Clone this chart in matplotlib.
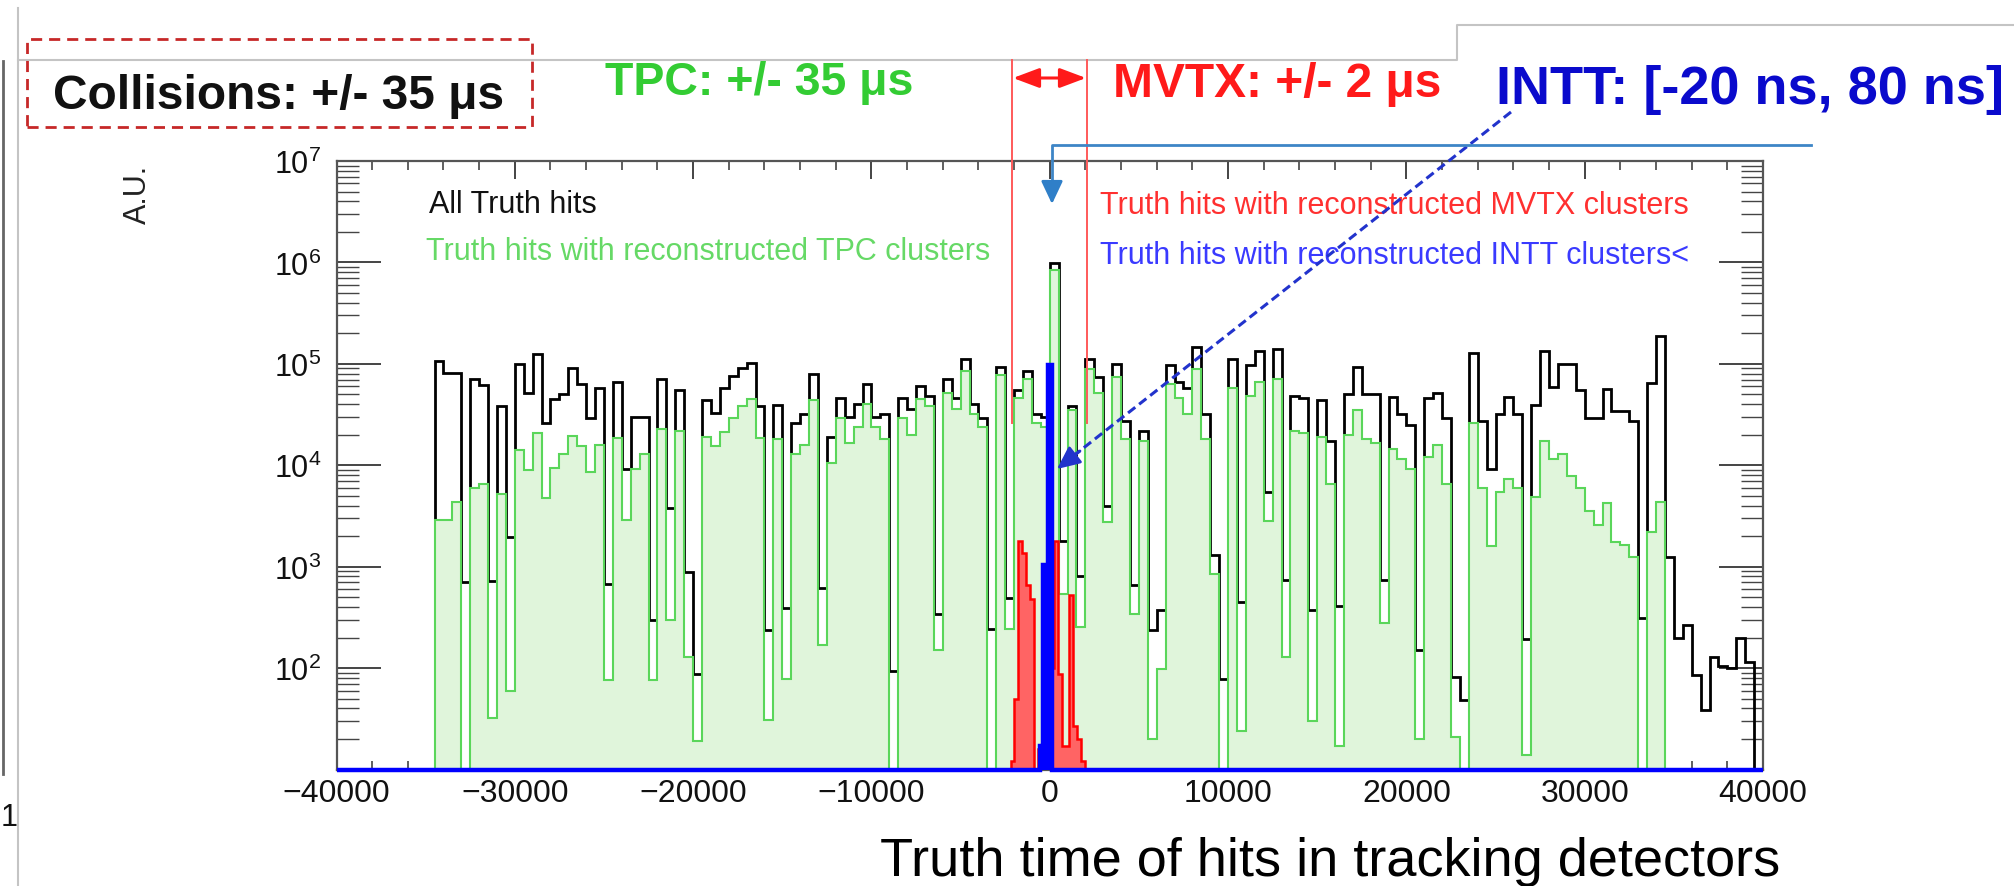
import numpy as np
import matplotlib
matplotlib.use("Agg")
import matplotlib.pyplot as plt
from matplotlib.lines import Line2D
from matplotlib.patches import Rectangle, FancyArrowPatch
from matplotlib.ticker import LogLocator, NullFormatter, MultipleLocator

plt.rcParams['font.family'] = ['Liberation Sans', 'DejaVu Sans']
plt.rcParams['mathtext.fontset'] = 'custom'
plt.rcParams['mathtext.rm'] = 'Liberation Sans'
plt.rcParams['mathtext.it'] = 'Liberation Sans:italic'
plt.rcParams['mathtext.bf'] = 'Liberation Sans:bold'

# ---------------- data ----------------
# 160 bins of 500 ns from -40000 to 40000
bin_edges = np.arange(-40000, 40001, 500)

all_hits = [
    0, 0, 0, 0, 0, 0, 0, 0, 0, 0,
    0, 107000, 81000, 81000, 710, 71000, 62000, 720, 38000, 1950,
    100000, 52000, 126000, 26000, 45000, 50000, 91000, 63000, 29500, 58000,
    680, 66000, 9100, 30000, 30000, 300, 71000, 3800, 55000, 890,
    87, 44000, 33000, 58000, 76000, 91000, 102000, 38000, 240, 39000,
    390, 26000, 32000, 79000, 620, 19000, 46000, 30000, 40000, 63000,
    30000, 32000, 93, 46000, 36000, 60000, 48000, 340, 71000, 46000,
    112000, 40000, 29000, 245, 93000, 490, 55000, 85000, 32000, 30000,
    980000, 1800, 38000, 810, 112000, 74000, 4000, 100000, 27500, 660,
    22000, 235, 370, 98000, 66000, 58000, 148000, 32000, 1300, 78,
    112000, 450, 98000, 135000, 5500, 141000, 740, 48000, 46000, 370,
    44000, 17500, 410, 50000, 93000, 50000, 50000, 740, 47000, 32000,
    25000, 150, 46000, 52000, 29000, 81, 49, 129000, 27500, 9100,
    32000, 47000, 32000, 195, 39000, 135000, 59000, 100000, 100000, 55000,
    29500, 29500, 56000, 34000, 34000, 27500, 310, 65000, 190000, 1250,
    200, 265, 85, 39, 130, 105, 100, 200, 115, 0,
]

tpc_hits = [
    0, 0, 0, 0, 0, 0, 0, 0, 0, 0,
    0, 2900, 2900, 4300, 0, 5900, 6500, 32, 5200, 59,
    14000, 8900, 21000, 4800, 9500, 13000, 19500, 15500, 8500, 16000,
    76, 18500, 2900, 9100, 13000, 76, 23000, 300, 22000, 130,
    19, 19000, 15500, 21500, 29500, 38000, 45000, 18500, 31, 18000,
    78, 13000, 16000, 44000, 170, 10500, 29000, 16500, 24000, 40000,
    24000, 18000, 0, 29000, 20000, 45000, 38000, 150, 52000, 36000,
    85000, 32000, 24000, 0, 78000, 245, 46000, 71000, 26000, 24000,
    850000, 540, 35000, 255, 89000, 52000, 2750, 74000, 18000, 340,
    17500, 20, 98, 63000, 46000, 32000, 89000, 18000, 850, 0,
    58000, 24, 48000, 66000, 2800, 71000, 130, 22000, 21000, 30,
    19000, 6600, 17, 20000, 35000, 18000, 16500, 280, 14500, 11500,
    9100, 20, 12000, 16000, 6600, 21, 0, 26000, 5900, 1600,
    5400, 7400, 5900, 14, 4900, 17500, 11500, 13000, 7900, 6000,
    3500, 2600, 4200, 1750, 1650, 1250, 0, 2200, 4300, 0,
    0, 0, 0, 0, 0, 0, 0, 0, 0, 0,
]

mvtx_edges = [-2200, -1980, -1760, -1540, -1320, -1100, -880, -660, -440, -220,
              0, 220, 440, 660, 880, 1100, 1320, 1540, 1760, 1980, 2200]
mvtx_hits = [12, 50, 1800, 1350, 660, 480, 0, 16, 0, 0,
             100, 1800, 87, 17, 17, 520, 27, 20, 12, 0]

intt_edges = [-40000, -550, -370, -80, 120, 40000]
intt_hits = [0, 17, 1050, 98000, 0]

x_ticks = [-40000, -30000, -20000, -10000, 0, 10000, 20000, 30000, 40000]
x_tick_labels = ['\u221240000', '\u221230000', '\u221220000', '\u221210000', '0',
                 '10000', '20000', '30000', '40000']
y_ticks = [1e1, 1e2, 1e3, 1e4, 1e5, 1e6, 1e7]
y_tick_labels = ['', r'$10^{2}$', r'$10^{3}$', r'$10^{4}$', r'$10^{5}$', r'$10^{6}$', r'$10^{7}$']

legend_labels = ['All Truth hits',
                 'Truth hits with reconstructed TPC clusters',
                 'Truth hits with reconstructed MVTX clusters',
                 'Truth hits with reconstructed INTT clusters<']

# ---------------- figure ----------------
W, H = 2014, 887
fig = plt.figure(figsize=(W / 100, H / 100), dpi=100, facecolor='white')


def fx(x):
    return x / W


def fy(y):
    return 1 - y / H


def fline(xs, ys, **kw):
    fig.add_artist(Line2D([fx(v) for v in xs], [fy(v) for v in ys],
                          transform=fig.transFigure, **kw))


ax_l, ax_r, ax_t, ax_b = 336.5, 1763, 162, 770.5
ax = fig.add_axes([fx(ax_l), fy(ax_b), (ax_r - ax_l) / W, (ax_b - ax_t) / H])
ax.set_yscale('log')
ymin, ymax = 10, 1e7
ax.set_xlim(-40000, 40000)
ax.set_ylim(ymin, ymax)

black_c = '#000000'
green_line = '#5ad65a'
green_fill = '#e0f5db'

ax.stairs(np.maximum(all_hits, ymin), bin_edges, baseline=ymin,
          color=black_c, lw=2.0, zorder=2)
ax.stairs(np.maximum(tpc_hits, ymin), bin_edges, baseline=ymin, fill=True,
          facecolor=green_fill, edgecolor='none', lw=0, zorder=3)
ax.stairs(np.maximum(tpc_hits, ymin), bin_edges, baseline=ymin,
          color=green_line, lw=1.5, zorder=4)
ax.stairs(np.maximum(mvtx_hits, ymin), mvtx_edges, baseline=ymin, fill=True,
          facecolor='#ff6464', edgecolor='none', lw=0, zorder=5)
ax.stairs(np.maximum(mvtx_hits, ymin), mvtx_edges, baseline=ymin,
          color='#ff0000', lw=1.8, zorder=6)
ax.stairs(np.maximum(intt_hits, ymin), intt_edges, baseline=ymin, fill=True,
          facecolor='#0000ff', edgecolor='none', lw=0, zorder=7)
ax.stairs(np.maximum(intt_hits, ymin), intt_edges, baseline=ymin,
          color='#0000ff', lw=3.2, zorder=8, clip_on=False)

ax.set_xticks(x_ticks)
ax.set_xticklabels(x_tick_labels)
ax.xaxis.set_minor_locator(MultipleLocator(2000))
ax.set_yticks(y_ticks)
ax.set_yticklabels(y_tick_labels)
ax.yaxis.set_minor_locator(LogLocator(base=10, subs=range(2, 10), numticks=20))
ax.yaxis.set_minor_formatter(NullFormatter())

tick_c = '#444444'
ax.tick_params(axis='x', which='major', direction='in', length=13, width=1.4,
               top=True, bottom=True, labelsize=23, pad=6, color=tick_c,
               labelcolor='#111111')
ax.tick_params(axis='x', which='minor', direction='in', length=6.5, width=1.2,
               top=True, bottom=True, color=tick_c)
ax.tick_params(axis='y', which='major', direction='in', length=32, width=1.4,
               left=True, right=True, labelsize=22, pad=11, color=tick_c,
               labelcolor='#111111')
ax.tick_params(axis='y', which='minor', direction='in', length=16, width=1.0,
               left=True, right=True, color=tick_c)
for s in ax.spines.values():
    s.set_color('#555555')
    s.set_linewidth(1.6)

# legend texts inside frame
fig.text(fx(429), fy(213), legend_labels[0], color='#111111', fontsize=22, va='baseline')
fig.text(fx(426), fy(260), legend_labels[1], color='#66d966', fontsize=22, va='baseline')
fig.text(fx(1100), fy(214), legend_labels[2], color='#ff3030', fontsize=22, va='baseline')
fig.text(fx(1100), fy(264), legend_labels[3], color='#3a3aff', fontsize=22, va='baseline')

# axis texts
fig.text(fx(138), fy(194), 'A.U.', rotation=90, fontsize=22, ha='center', va='center',
         color='#222222')
fig.text(fx(1330), fy(876), 'Truth time of hits in tracking detectors', fontsize=39,
         ha='center', va='baseline', color='#000000')

# ---------------- slide overlay ----------------
# gray frame lines of the slide
fline([18, 1457, 1457, 2014], [61, 61, 26, 26], color='#c4c4c4', lw=1.5, zorder=0)
fline([18, 18], [9, 887], color='#c4c4c4', lw=1.5, zorder=0)
fline([3, 3], [62, 775], color='#666666', lw=2.0, zorder=0)
fig.text(fx(1), fy(826), '1', fontsize=22, color='#111111', va='baseline', ha='left')

# Collisions box
fig.add_artist(Rectangle((fx(27), fy(128)), (532 - 27) / W, (128 - 40) / H,
                         transform=fig.transFigure, fill=False, edgecolor='#c62828',
                         lw=2.0, linestyle=(0, (4, 2.5))))
fig.text(fx(279), fy(109), 'Collisions: +/- 35 \u03bcs', fontsize=34.5, fontweight='bold',
         ha='center', va='baseline', color='#111111')

fig.text(fx(605), fy(95), 'TPC: +/- 35 \u03bcs', fontsize=33.5, fontweight='bold',
         ha='left', va='baseline', color='#33cc33')
fig.text(fx(1113), fy(97), 'MVTX: +/- 2 \u03bcs', fontsize=34.5, fontweight='bold',
         ha='left', va='baseline', color='#ff1a1a')
fig.text(fx(1496), fy(104), 'INTT: [-20 ns, 80 ns]', fontsize=39, fontweight='bold',
         ha='left', va='baseline', color='#0a0acc')

# MVTX window lines and double arrow
fline([1012, 1012], [61, 424], color='#ff5a5a', lw=1.4, zorder=10)
fline([1087, 1087], [61, 424], color='#ff5a5a', lw=1.4, zorder=10)
fig.add_artist(FancyArrowPatch((fx(1013), fy(79)), (fx(1086), fy(79)),
                               transform=fig.transFigure,
                               arrowstyle='<|-|>,head_length=0.8,head_width=0.3',
                               mutation_scale=20, color='#ff1a1a', lw=2.2,
                               shrinkA=0, shrinkB=0))

# INTT dashed pointer
fline([1511, 1072], [113, 458], color='#2233cc', lw=2.2, ls=(0, (3, 1.6)), zorder=10)
fig.add_artist(FancyArrowPatch((fx(1080), fy(452)), (fx(1057), fy(470)),
                               transform=fig.transFigure,
                               arrowstyle='-|>,head_length=0.7,head_width=0.32',
                               mutation_scale=20, color='#2233cc', lw=2.0,
                               shrinkA=0, shrinkB=0, zorder=10))

# light blue callout pointing at the peak
fline([1811, 1052, 1052], [146, 146, 190], color='#3d85c6', lw=2.0, zorder=10)
fig.add_artist(FancyArrowPatch((fx(1052), fy(184)), (fx(1052), fy(205)),
                               transform=fig.transFigure,
                               arrowstyle='-|>,head_length=0.7,head_width=0.33',
                               mutation_scale=20, color='#2f7fc8', lw=2.0,
                               shrinkA=0, shrinkB=0, zorder=10))

fig.savefig('out.png', dpi=100, facecolor='white')
